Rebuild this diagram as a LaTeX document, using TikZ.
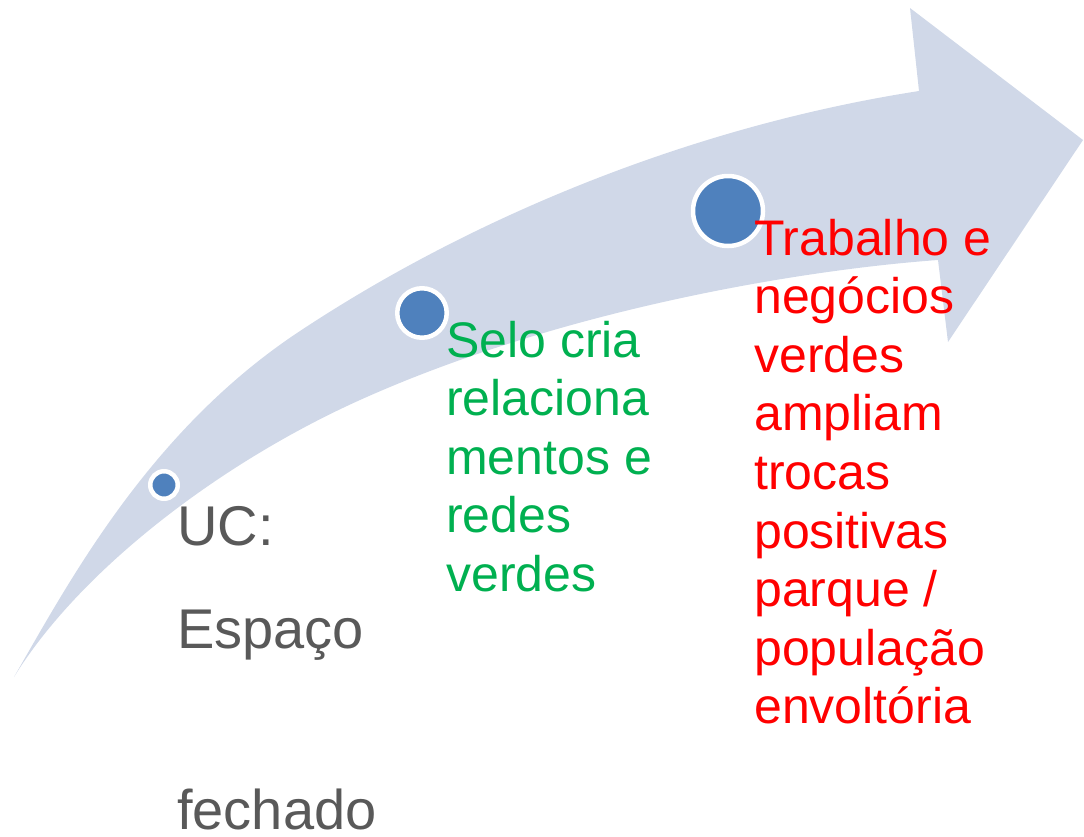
\documentclass[tikz,border=0pt]{standalone}
\usepackage{fontspec}
\setmainfont{Liberation Sans}
\usetikzlibrary{positioning}
\definecolor{arrowblue}{HTML}{D0D8E8}
\definecolor{dotblue}{HTML}{4F81BD}
\definecolor{ucgray}{HTML}{595959}
\definecolor{selogreen}{HTML}{00B050}
\definecolor{trabred}{HTML}{FF0000}

\begin{document}
\begin{tikzpicture}[
    x=1pt, y=-1pt,
    dot/.style={
		circle,
		fill=dotblue,
		draw=white,
		line width=4.5pt,
		inner sep=0pt
	},
    stage/.style={
		anchor=base west,
		align=left,
		inner sep=0pt,
		font=\fontsize{50}{58.6}\selectfont
	}
  ]
  \useasboundingbox (0,0) rectangle (1084,836);

  % the big curved arrow
  \fill [arrowblue] (14,677) .. controls (70,580) and (150,430) .. (300,331)
    .. controls (480,212) and (700,125) .. (919,91)
    -- (910,8) -- (1083,140) -- (948,342) -- (938,260)
    .. controls (800,270) and (560,310) .. (360,400)
    .. controls (220,463) and (80,570) .. (14,677)
    -- cycle;

  % the three dots
  \node [dot, minimum size=27.5pt] (dot1) at (164,485) {};
  \node [dot, minimum size=49.5pt] (dot2) at (422,313) {};
  \node [dot, minimum size=70pt] (dot3) at (728,211) {};

  % the texts (base is the last line)
  \node [stage, text=ucgray, font=\fontsize{56}{103}\selectfont] (uc) at (177,829)
  {UC:\\Espaço\\[78pt]fechado};

  \node [stage, text=selogreen] (selo) at (446,591.4)
  {Selo cria\\relaciona\\mentos e\\redes\\verdes};

  \node [stage, text=trabred] (trab) at (754,723.8)
  {Trabalho e\\negócios\\verdes\\ampliam\\trocas\\positivas\\parque /\\população\\envoltória};

\end{tikzpicture}
\end{document}
